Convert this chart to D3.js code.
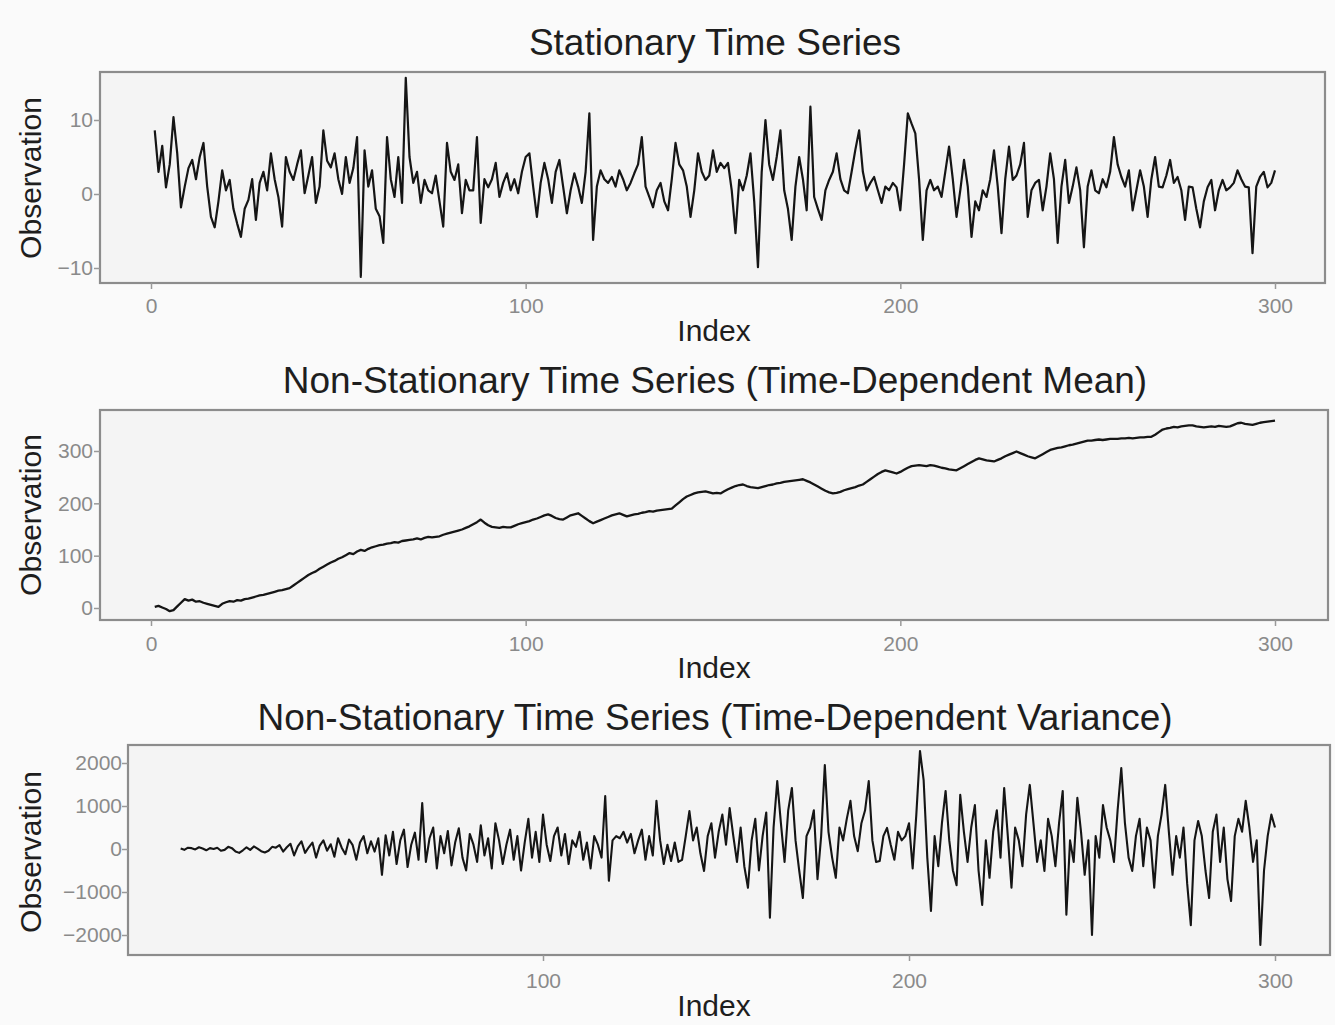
<!DOCTYPE html>
<html>
<head>
<meta charset="utf-8">
<script src="https://cdn.jsdelivr.net/npm/d3@7"></script>
<style>
  html, body { margin: 0; padding: 0; background: #fafafa; }
  svg { display: block; }
</style>
</head>
<body>
<svg id="chart" width="1335" height="1025"></svg>
<script>
// ---------------- DATA ----------------
const titles = [
  "Stationary Time Series",
  "Non-Stationary Time Series (Time-Dependent Mean)",
  "Non-Stationary Time Series (Time-Dependent Variance)"
];
const xLabel = "Index";
const yLabel = "Observation";

const stationary = [
  8.6,3.0,6.5,0.9,4.0,10.4,5.5,-1.8,1.0,3.5,4.6,2.0,5.0,6.9,1.0,-3.1,-4.5,-1.0,3.2,0.5,
  1.9,-2.0,-4.0,-5.8,-2.0,-0.8,2.0,-3.5,1.5,3.0,0.5,5.5,2.0,-0.4,-4.4,5.0,3.0,1.9,4.0,5.9,
  0.1,2.5,5.0,-1.2,1.0,8.6,4.5,3.6,5.5,2.0,0.0,5.0,1.5,3.5,7.7,-11.2,5.9,1.0,3.2,-2.0,
  -3.0,-6.6,7.7,2.0,-0.4,5.0,-1.2,15.7,5.0,1.5,3.0,-1.2,1.9,0.5,0.1,2.5,-1.0,-4.4,6.9,3.0,
  1.9,4.0,-2.6,1.9,0.5,0.5,7.7,-3.9,2.0,0.9,2.0,4.2,-0.4,1.5,2.8,0.5,2.0,0.1,3.0,5.0,
  5.5,1.0,-3.1,1.5,4.2,2.0,-1.2,3.0,4.6,1.0,-2.6,0.5,2.8,1.0,-1.2,3.0,10.9,-6.2,1.0,3.2,
  2.0,1.5,2.3,1.0,3.2,2.0,0.5,1.5,2.8,4.0,7.7,1.0,-0.4,-1.8,0.5,1.5,-1.0,-2.2,2.0,6.9,
  4.0,3.2,1.0,-3.1,0.5,5.5,3.0,1.9,2.5,5.9,3.0,4.2,3.5,4.2,0.5,-5.3,1.9,0.5,2.5,5.5,
  -1.0,-9.9,3.0,10.0,4.0,1.9,5.0,8.6,0.5,-2.0,-6.2,1.0,5.0,2.0,-2.2,11.8,-0.4,-2.0,-3.5,0.5,
  1.9,3.0,5.5,2.0,0.5,0.1,3.0,6.0,8.6,3.0,0.5,1.5,2.3,0.5,-1.2,1.0,0.5,1.5,0.9,-2.2,
  4.0,10.9,9.5,8.2,2.0,-6.2,0.5,1.9,0.5,1.0,-0.4,3.0,6.4,2.0,-3.1,0.5,4.6,1.0,-5.8,-1.0,
  -2.2,0.5,-0.4,2.0,5.9,1.0,-5.3,2.0,6.4,1.9,2.5,4.0,6.9,-3.1,0.5,1.5,1.9,-2.2,1.0,5.5,
  2.0,-6.6,1.0,4.6,-1.2,1.0,3.6,0.5,-7.2,1.0,3.2,0.5,0.1,2.0,0.9,3.0,7.7,4.0,2.3,1.0,
  3.2,-2.2,0.5,3.2,1.0,-3.1,2.0,5.0,1.0,0.9,2.5,4.6,1.5,2.3,0.5,-3.5,1.0,0.9,-2.0,-4.5,
  -1.0,0.9,1.9,-2.2,0.5,1.9,0.5,0.9,1.5,3.2,2.0,1.0,0.9,-8.0,1.0,2.3,3.0,0.9,1.5,3.2
];

const trendMean = [
  2,4,1,-2,-6,-4,3,10,17,14,16,12,13,10,8,6,4,2,8,11,
  13,12,15,14,17,18,20,22,24,25,27,29,31,33,34,36,38,43,48,53,
  58,63,67,70,75,79,83,87,90,94,97,101,105,103,108,111,109,113,116,118,
  120,121,123,124,126,125,128,129,130,131,133,131,134,136,135,136,137,140,142,144,
  146,148,150,153,156,160,164,169,163,158,155,154,153,155,154,154,157,160,162,164,
  166,169,171,174,177,179,176,172,170,169,173,177,179,181,176,171,166,162,165,168,
  171,174,177,179,181,178,175,177,179,180,182,183,185,184,186,187,188,189,190,196,
  202,208,213,216,219,221,222,223,221,219,220,219,223,227,230,233,235,236,233,231,
  230,229,231,233,235,236,238,239,241,242,243,244,245,246,243,240,236,232,228,224,
  221,219,220,222,225,227,229,231,234,236,241,246,251,256,260,263,261,259,257,260,
  264,268,271,272,273,272,271,273,272,270,268,267,265,264,263,267,271,275,279,283,
  286,284,282,281,280,283,286,290,293,296,299,296,293,290,288,286,290,294,298,302,
  304,306,307,309,311,312,314,316,318,320,320,321,322,321,322,323,323,323,324,324,
  325,324,325,326,326,327,327,331,336,341,343,344,346,345,347,348,349,349,347,346,
  345,346,347,346,348,347,346,347,350,353,354,352,351,350,352,354,355,356,357,358
];

const trendVar = [
  10,-20,30,20,-10,40,10,-30,20,0,30,-40,-20,50,20,-60,-90,-30,40,-20,
  60,10,-50,-80,-40,50,30,90,-60,40,120,-150,60,180,-90,40,150,-200,80,200,
  -40,110,-180,250,30,-120,220,90,-250,150,300,-100,180,-60,250,-600,320,-150,400,-350,
  200,450,-420,100,380,-250,1070,-300,250,500,-450,300,-100,420,-380,150,480,-200,-500,350,
  100,-300,550,-150,250,-450,600,200,-350,100,450,-250,300,-500,150,700,-200,400,-300,800,
  100,-280,300,500,-150,350,-350,200,50,400,-250,150,-450,300,100,-200,1230,-740,200,300,
  250,400,150,350,-100,200,450,-250,300,-150,1120,200,-350,100,-280,150,-300,-250,300,880,
  200,500,-100,-510,300,600,-200,400,800,100,950,300,-300,500,-400,-900,200,700,-500,300,
  850,-1600,500,1580,600,-300,900,1420,200,-500,-1140,300,500,900,-700,300,1950,400,-200,-670,
  500,200,700,1120,300,-50,600,900,1580,200,-300,-280,300,490,100,-250,400,200,300,600,
  -450,800,2280,1600,-200,-1440,300,-400,600,1350,200,-500,-840,1260,400,-300,500,1020,-500,-1300,
  200,-670,400,900,-200,1420,300,-900,500,200,-400,800,1490,600,-300,200,-510,700,300,-400,
  600,1350,-1530,200,-300,1190,400,-600,200,-2000,300,-200,1020,500,200,-300,900,1880,600,-200,
  -510,300,700,-400,500,200,-900,300,800,1490,400,-600,300,-200,500,-800,-1770,200,650,300,
  -500,-1140,400,800,-300,500,-700,-1210,300,700,400,1120,500,-300,200,-2230,-500,300,800,500
];

const xTicks1 = [0, 100, 200, 300];
const xTicks2 = [0, 100, 200, 300];
const xTicks3 = [100, 200, 300];
const yTicks1 = [-10, 0, 10];
const yTicks2 = [0, 100, 200, 300];
const yTicks3 = [-2000, -1000, 0, 1000, 2000];

// ---------------- LAYOUT ----------------
const panels = [
  { data: stationary, title: titles[0], xTicks: xTicks1, yTicks: yTicks1,
    frame: { x0: 100, x1: 1325, y0: 72, y1: 283 },
    xDom: [0, 300], xRng: [151, 1275], yDom: [-10, 10], yRng: [268, 120],
    titleY: 55, xLabY: 341, xTickY: 308, tickLabX: 93, yLabY: 178, lw: 2.2 },
  { data: trendMean, title: titles[1], xTicks: xTicks2, yTicks: yTicks2,
    frame: { x0: 100, x1: 1328, y0: 410, y1: 620 },
    xDom: [0, 300], xRng: [151, 1275], yDom: [0, 300], yRng: [608, 451],
    titleY: 393, xLabY: 678, xTickY: 646, tickLabX: 93, yLabY: 515, lw: 2.3 },
  { data: trendVar, title: titles[2], xTicks: xTicks3, yTicks: yTicks3,
    frame: { x0: 128, x1: 1330, y0: 745, y1: 955 },
    xDom: [0, 300], xRng: [177, 1275], yDom: [-2000, 2000], yRng: [935, 763],
    titleY: 730, xLabY: 1016, xTickY: 983, tickLabX: 122, yLabY: 852, lw: 2.1 }
];

const svg = d3.select("#chart");
svg.append("rect").attr("width", 1335).attr("height", 1025).attr("fill", "#fafafa");

const font = "Liberation Sans, Arial, Helvetica, sans-serif";

panels.forEach(p => {
  const g = svg.append("g");
  const x = d3.scaleLinear().domain(p.xDom).range(p.xRng);
  const y = d3.scaleLinear().domain(p.yDom).range(p.yRng);
  const f = p.frame;

  // plot area
  g.append("rect")
    .attr("x", f.x0).attr("y", f.y0)
    .attr("width", f.x1 - f.x0).attr("height", f.y1 - f.y0)
    .attr("fill", "#f4f4f4")
    .attr("stroke", "#8c8c8c").attr("stroke-width", 2.2);

  // y axis
  const yAxis = d3.axisLeft(y).tickValues(p.yTicks).tickSize(6).tickPadding(3)
    .tickFormat(d3.format("d"));
  const ya = g.append("g").attr("transform", `translate(${f.x0},0)`).call(yAxis);
  ya.select(".domain").remove();
  ya.selectAll(".tick line").attr("stroke", "#999").attr("stroke-width", 1.5);
  ya.selectAll(".tick text")
    .attr("x", p.tickLabX - f.x0)
    .attr("fill", "#8a8a8a").attr("font-size", 21).attr("font-family", font)
    .text(d => d < 0 ? "\u2212" + Math.abs(d) : d);

  // x axis
  const xAxis = d3.axisBottom(x).tickValues(p.xTicks).tickSize(6).tickPadding(3)
    .tickFormat(d3.format("d"));
  const xa = g.append("g").attr("transform", `translate(0,${f.y1})`).call(xAxis);
  xa.select(".domain").remove();
  xa.selectAll(".tick line").attr("stroke", "#999").attr("stroke-width", 1.5);
  xa.selectAll(".tick text")
    .attr("y", p.xTickY - f.y1 - 10)
    .attr("fill", "#8a8a8a").attr("font-size", 21).attr("font-family", font);

  // series
  const line = d3.line().x((d, i) => x(i + 1)).y(d => y(d));
  g.append("path").datum(p.data)
    .attr("d", line)
    .attr("fill", "none").attr("stroke", "#151515")
    .attr("stroke-width", p.lw).attr("stroke-linejoin", "round");

  // title
  g.append("text").attr("x", 715).attr("y", p.titleY)
    .attr("text-anchor", "middle").attr("font-family", font)
    .attr("font-size", 37).attr("fill", "#1e1e1e").text(p.title);

  // x label
  g.append("text").attr("x", 714).attr("y", p.xLabY)
    .attr("text-anchor", "middle").attr("font-family", font)
    .attr("font-size", 30).attr("fill", "#1e1e1e").text(xLabel);

  // y label
  g.append("text")
    .attr("transform", `translate(41,${p.yLabY}) rotate(-90)`)
    .attr("text-anchor", "middle").attr("font-family", font)
    .attr("font-size", 30).attr("fill", "#1e1e1e").text(yLabel);
});
</script>
</body>
</html>
